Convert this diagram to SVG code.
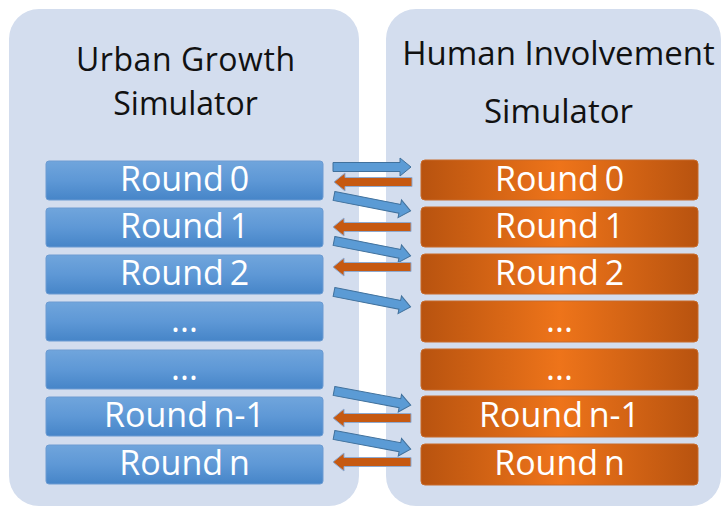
<svg xmlns="http://www.w3.org/2000/svg" width="721" height="508" viewBox="0 0 721 508">
<style>
.panel{fill:#D3DDEE}
.title{font-family:"Open Sans","Liberation Sans",sans-serif;font-size:33px;fill:#111;text-anchor:middle}
.t2{font-size:32px}
.lbl{font-family:"Open Sans","Liberation Sans",sans-serif;font-size:34px;fill:#fff;text-anchor:middle;word-spacing:-3px}
.bbox{fill:url(#gBlue);stroke:#6C9BD2;stroke-width:1}
.obox{fill:url(#gOrange);stroke:#C86A2A;stroke-width:1}
.ab{fill:#5B9BD5;stroke:#41719C;stroke-width:1}
.ao{fill:#C65911;stroke:#8EA9CF;stroke-width:1}
</style>
<defs>
<linearGradient id="gBlue" x1="0" y1="0" x2="0" y2="1">
<stop offset="0" stop-color="#70A5DC"/>
<stop offset="0.5" stop-color="#5E98D6"/>
<stop offset="1" stop-color="#4685C8"/>
</linearGradient>
<linearGradient id="gOrange" x1="0" y1="0" x2="1" y2="0">
<stop offset="0" stop-color="#B8530F"/>
<stop offset="0.5" stop-color="#EE741A"/>
<stop offset="1" stop-color="#B8530F"/>
</linearGradient>
<path id="arr" d="M0,-4.5 L67,-4.5 L67,-9 L78,0 L67,9 L67,4.5 L0,4.5 Z"/>
</defs>
<rect width="721" height="508" fill="#fff"/>
<g id="urban-panel">
<rect class="panel" x="9" y="9" width="350" height="497" rx="30"/>
<text class="title t2" x="185.5" y="71" textLength="219">Urban Growth</text>
<text class="title t2" x="185.5" y="115">Simulator</text>
</g>
<g id="human-panel">
<rect class="panel" x="386" y="9" width="335" height="497" rx="30"/>
<text class="title" x="558.5" y="65">Human Involvement</text>
<text class="title" x="558.5" y="123">Simulator</text>
</g>
<g id="u0"><rect class="bbox" x="46" y="161" width="277" height="39" rx="3"/><text class="lbl" x="184.5" y="191">Round 0</text></g>
<g id="u1"><rect class="bbox" x="46" y="208" width="277" height="39" rx="3"/><text class="lbl" x="184.5" y="238">Round 1</text></g>
<g id="u2"><rect class="bbox" x="46" y="255" width="277" height="39" rx="3"/><text class="lbl" x="184.5" y="285">Round 2</text></g>
<g id="u3"><rect class="bbox" x="46" y="302" width="277" height="39" rx="3"/><text class="lbl" x="184.5" y="332">...</text></g>
<g id="u4"><rect class="bbox" x="46" y="350" width="277" height="39" rx="3"/><text class="lbl" x="184.5" y="380">...</text></g>
<g id="u5"><rect class="bbox" x="46" y="397" width="277" height="39" rx="3"/><text class="lbl" x="184.5" y="427">Round n-1</text></g>
<g id="u6"><rect class="bbox" x="46" y="445" width="277" height="39" rx="3"/><text class="lbl" x="184.5" y="475">Round n</text></g>
<g id="h0"><rect class="obox" x="421" y="160" width="277" height="40" rx="4"/><text class="lbl" x="559.5" y="191">Round 0</text></g>
<g id="h1"><rect class="obox" x="421" y="207" width="277" height="40" rx="4"/><text class="lbl" x="559.5" y="238">Round 1</text></g>
<g id="h2"><rect class="obox" x="421" y="254" width="277" height="40" rx="4"/><text class="lbl" x="559.5" y="285">Round 2</text></g>
<g id="h3"><rect class="obox" x="421" y="301" width="277" height="41" rx="4"/><text class="lbl" x="559.5" y="332">...</text></g>
<g id="h4"><rect class="obox" x="421" y="349" width="277" height="41" rx="4"/><text class="lbl" x="559.5" y="380">...</text></g>
<g id="h5"><rect class="obox" x="421" y="396" width="277" height="41" rx="4"/><text class="lbl" x="559.5" y="427">Round n-1</text></g>
<g id="h6"><rect class="obox" x="421" y="444" width="277" height="41" rx="4"/><text class="lbl" x="559.5" y="475">Round n</text></g>
<g id="connectors">
<use href="#arr" class="ab" transform="translate(333,167)"/>
<use href="#arr" class="ao" transform="translate(412,182) rotate(180)"/>
<use href="#arr" class="ab" transform="translate(334,196) rotate(11)"/>
<use href="#arr" class="ao" transform="translate(411,227) rotate(180)"/>
<use href="#arr" class="ab" transform="translate(334,241) rotate(11)"/>
<use href="#arr" class="ao" transform="translate(411,267) rotate(180)"/>
<use href="#arr" class="ab" transform="translate(334,292) rotate(11)"/>
<use href="#arr" class="ab" transform="translate(334,391) rotate(10.5)"/>
<use href="#arr" class="ao" transform="translate(411,418) rotate(180)"/>
<use href="#arr" class="ab" transform="translate(334,435) rotate(10.5)"/>
<use href="#arr" class="ao" transform="translate(411,462) rotate(180)"/>
</g>
</svg>
